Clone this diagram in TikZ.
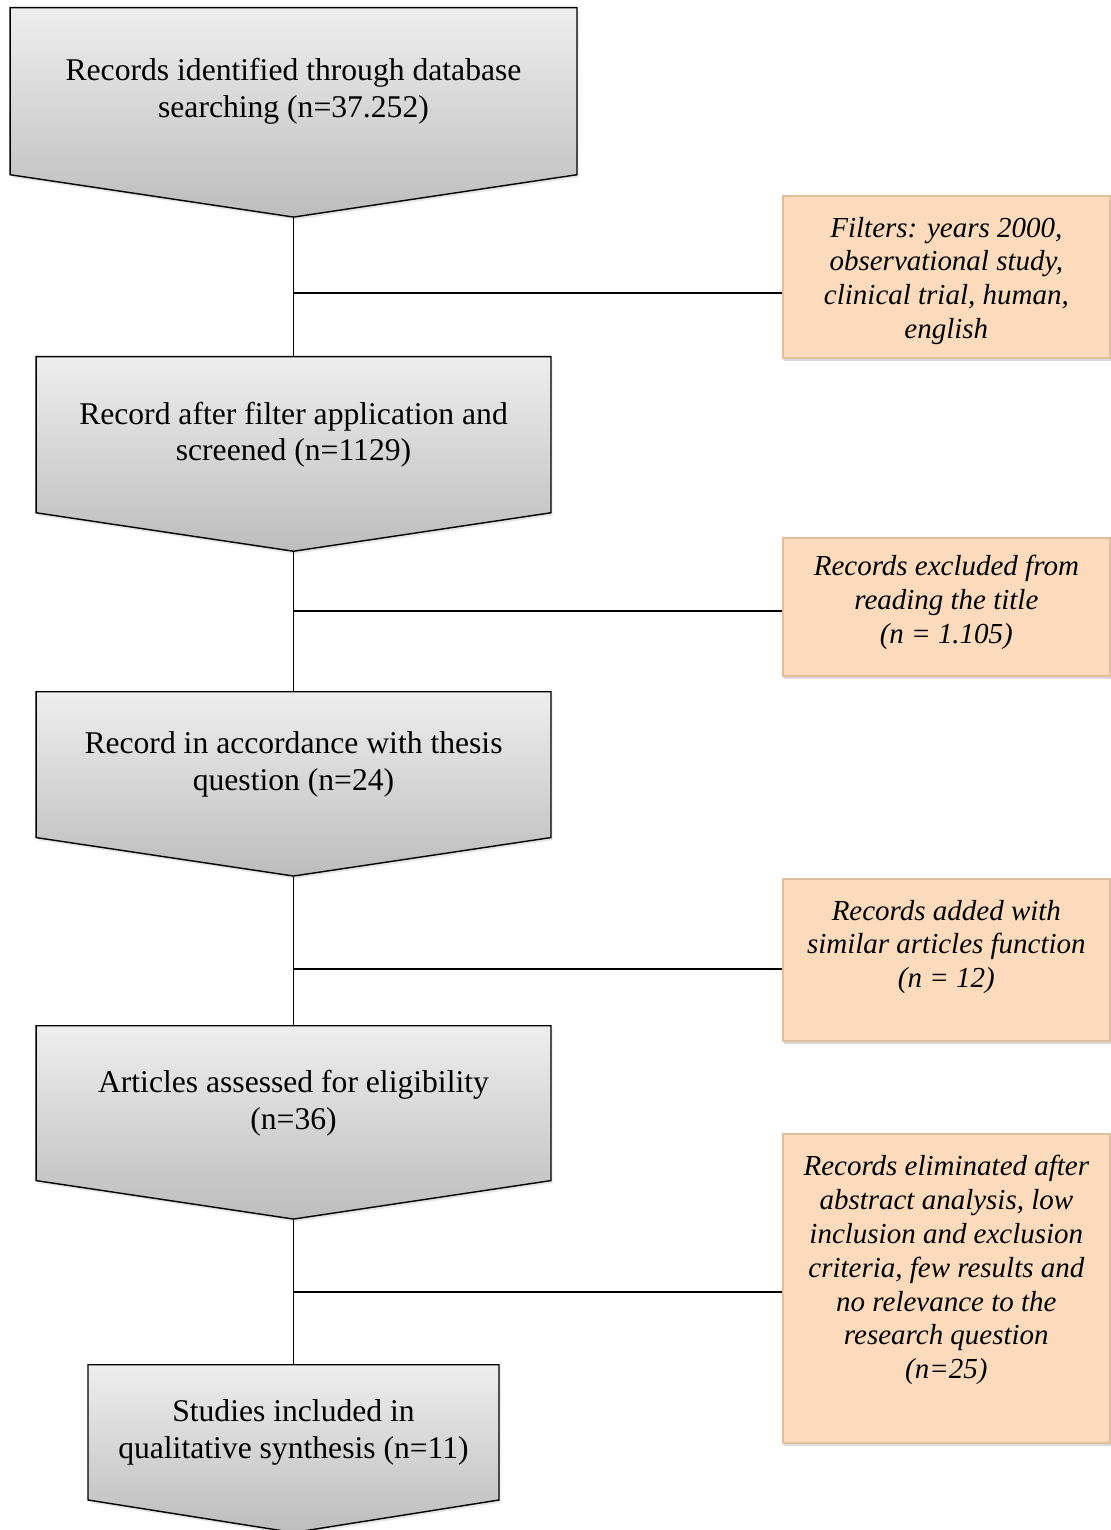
\documentclass[tikz,border=0pt]{standalone}
\usepackage{fontspec}
\setmainfont{Liberation Serif}
\usepackage{tikz}
\usetikzlibrary{positioning, shapes.symbols, shadows, calc}

\definecolor{stagetop}{RGB}{238,238,238}
\definecolor{stagebot}{RGB}{189,189,189}
\definecolor{notefill}{RGB}{252,218,188}
\definecolor{noteedge}{RGB}{224,190,160}

\newlength\pxunit
\setlength\pxunit{0.02cm}
\newcommand{\notetext}[2]{\parbox[c][\dimexpr #1\pxunit-24pt\relax][t]{6.3cm}{\centering #2}}

\begin{document}
\begin{tikzpicture}[
  x=0.02cm, y=-0.02cm,
  stage/.style={signal, signal to=south, signal pointer angle=163, draw, line width=0.8pt,
    top color=stagetop, bottom color=stagebot, align=center, anchor=north,
    font=\fontsize{18}{21}\selectfont,
    drop shadow={opacity=0.2, shadow xshift=1pt, shadow yshift=-1.5pt}},
  note/.style={rectangle, fill=notefill, draw=noteedge, line width=1pt, anchor=north west,
    inner xsep=2pt, inner ysep=12pt, minimum width=6.54cm,
    font=\fontsize{16.5}{19.3}\selectfont\itshape,
    drop shadow={opacity=0.3, shadow xshift=0.5pt, shadow yshift=-2pt}},
  link/.style={line width=1.1pt},
]
\useasboundingbox (0,0) rectangle (1111,1530);

\node[stage, minimum width=11.34cm, minimum height=4.04cm] (ident) at (293.5,7) {Records identified through database\\searching (n=37.252)};
\node[stage, minimum width=10.3cm, minimum height=3.78cm] (screen) at (293.5,356) {Record after filter application and\\screened (n=1129)};
\node[stage, minimum width=10.3cm, minimum height=3.56cm] (thesis) at (293.5,691) {Record in accordance with thesis\\question (n=24)};
\node[stage, minimum width=10.3cm, minimum height=3.7cm] (elig) at (293.5,1025) {Articles assessed for eligibility\\(n=36)};
\node[stage, minimum width=8.22cm, minimum height=3.28cm, signal pointer angle=162] (incl) at (293.5,1364) {Studies included in\\qualitative synthesis (n=11)};

\node[note] (filters) at (782,195) {\notetext{162}{Filters: years 2000,\\observational study,\\clinical trial, human,\\english}};
\node[note] (titleout) at (782,537) {\notetext{138}{\vspace*{-2pt}Records excluded from\\reading the title\\(n = 1.105)}};
\node[note] (added) at (782,878) {\notetext{162}{Records added with\\similar articles function\\(n = 12)}};
\node[note] (elim) at (782,1133) {\notetext{309}{Records eliminated after\\abstract analysis, low\\inclusion and exclusion\\criteria, few results and\\no relevance to the\\research question\\(n=25)}};

\coordinate (j1) at (293.5,293);
\coordinate (j2) at (293.5,611);
\coordinate (j3) at (293.5,969);
\coordinate (j4) at (293.5,1292);

\draw[link] (ident.south) -- (screen.north);
\draw[link] (screen.south) -- (thesis.north);
\draw[link] (thesis.south) -- (elig.north);
\draw[link] (elig.south) -- (incl.north);

\draw[link] (j1) -- (j1 -| filters.west);
\draw[link] (j2) -- (j2 -| titleout.west);
\draw[link] (j3) -- (j3 -| added.west);
\draw[link] (j4) -- (j4 -| elim.west);
\end{tikzpicture}
\end{document}
